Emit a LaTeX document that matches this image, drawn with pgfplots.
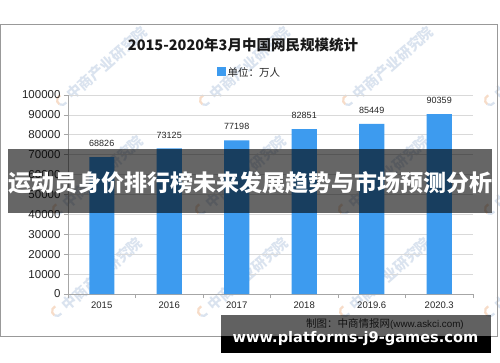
\documentclass[border=0pt]{standalone}
\usepackage{pgfplots}
\pgfplotsset{compat=1.18}
\usepackage{fontspec}
\setmainfont{Liberation Sans}
\newfontfamily\cjk{Noto Sans CJK SC}
\newfontfamily\dejavu{DejaVu Sans}
\definecolor{barblue}{HTML}{3D9BEF}
\definecolor{gridgray}{HTML}{D9D9D9}
\definecolor{axisgray}{HTML}{A6A6A6}
\definecolor{wmblue}{HTML}{DAE3EF}
\definecolor{wmorange}{HTML}{F7DCC8}
\usetikzlibrary{calc}
\newcommand{\wm}[2]{%
  \draw[wmorange, line width=2.2pt] (#1,#2) ++(110:5) arc[start angle=110,end angle=240,radius=5];
  \draw[wmblue, line width=2.2pt] (#1,#2) ++(240:5) arc[start angle=240,end angle=330,radius=5];
  \node[text=wmblue, rotate=41.5, anchor=west, inner sep=0pt,
        font=\cjk\bfseries\fontsize{14.5}{15}\selectfont] at ($(#1,#2)+(7,3)$) {中商产业研究院};%
}
\begin{document}
\begin{tikzpicture}[x=1pt,y=1pt]
\fill[white] (0,0) rectangle (500,362);
\useasboundingbox (0,0) rectangle (500,362);
% watermarks
\begin{scope}
\clip (0,0) rectangle (500,362);
\wm{62}{262}\wm{205}{262}\wm{348}{262}\wm{490}{262}
\wm{58}{153}\wm{201}{153}\wm{344}{153}\wm{490}{153}
\wm{57}{51}\wm{203}{51}\wm{345}{51}\wm{490}{51}
\end{scope}
% frame
\draw[black!40, line width=1pt] (0.5,26) rectangle (497.5,337);
\begin{axis}[
  at={(68pt,68pt)}, anchor=south west,
  width=405pt, height=199pt, scale only axis,
  xmin=-0.5, xmax=5.5, ymin=0, ymax=100000,
  axis x line*=bottom, axis y line*=left,
  axis line style={axisgray, line width=0.8pt},
  xtick={-0.5,0.5,...,5.5}, x tick label as interval,
  xticklabels={2015,2016,2017,2018,2019.6,2020.3},
  ytick={0,10000,...,100000},
  tick align=outside, major tick length=4pt,
  tick style={axisgray, line width=0.8pt},
  ymajorgrids, grid style={gridgray, line width=0.8pt},
  scaled y ticks=false,
  yticklabel style={font=\fontsize{11.5}{12}\selectfont, text=black!85},
  xticklabel style={font=\fontsize{9.5}{10}\selectfont, text=black!85},
  /pgf/number format/assume math mode=true,
  /pgf/number format/fixed,
  /pgf/number format/precision=0,
  /pgf/number format/1000 sep={},
  ybar, bar width=25pt,
  nodes near coords,
  every node near coord/.append style={font=\fontsize{9}{10}\selectfont, text=black!85, anchor=center, yshift=13.5pt},
  legend style={at={(0.448,1.1106)}, anchor=center, draw=none, fill=none,
     font=\cjk\fontsize{10.5}{12}\selectfont, text=black!85, inner sep=0pt},
]
\addplot[fill=barblue, draw=none,
  legend image code/.code={\fill[barblue] (0pt,-3.5pt) rectangle (9pt,5.5pt);}]
  coordinates {(0,68826) (1,73125) (2,77198) (3,82851) (4,85449) (5,90359)};
\addlegendentry{单位：万人}
\end{axis}
% title
\node[font=\cjk\bfseries\fontsize{14.5}{16}\selectfont, text=black!90] at (243,317) {2015-2020年3月中国网民规模统计};
% source
\node[anchor=base west, inner sep=0pt, text=black!80] at (306,35)
  {{\cjk\fontsize{10.5}{11}\selectfont 制图：中商情报网}{\fontsize{9.8}{11}\selectfont(www.askci.com)}};
% overlay banners
\fill[black, opacity=0.6] (8,149) rectangle (492,213);
\node[text=white, inner sep=0pt, font=\cjk\bfseries\fontsize{23}{23}\selectfont] at (250.5,179.5) {运动员身价排行榜未来发展趋势与市场预测分析};
\fill[black, opacity=0.62] (221,26) rectangle (491,47);
\fill[black] (221,9) rectangle (491,26);
\node[anchor=base, inner sep=0pt, text=white, font=\dejavu\bfseries\fontsize{14.6}{15}\selectfont] at (355.5,20) {www.platforms-j9-games.com};
\end{tikzpicture}
\end{document}
